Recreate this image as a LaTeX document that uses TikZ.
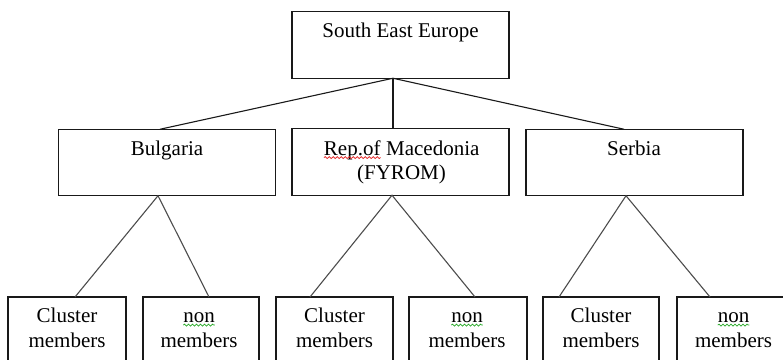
\documentclass[tikz,border=0pt]{standalone}
\usepackage{fontspec}
\setmainfont{Liberation Serif}
\usetikzlibrary{decorations.pathmorphing}

% word with a wavy underline (spell-check style)
\newcommand\squiggle[2]{\tikz[baseline=(sqw.base)]{%
  \node[inner sep=0pt,outer sep=0pt] (sqw) {#2};%
  \draw[#1,line width=0.75pt,decorate,decoration={snake,segment length=4pt,amplitude=0.9pt}]
    ([yshift=-2.6pt]sqw.base west) -- ([yshift=-2.6pt]sqw.base east);}}

\definecolor{spellred}{RGB}{226,30,30}
\definecolor{spellgreen}{RGB}{40,170,40}

\begin{document}
\begin{tikzpicture}[x=1pt,y=-1pt,
  box/.style={draw=black!90,line width=1.3pt,rectangle,inner sep=0pt,outer sep=0pt},
  topbox/.style={box,minimum width=217pt,minimum height=66.5pt},
  leafbox/.style={box,minimum width=117pt,minimum height=80pt},
  lbl/.style={font=\fontsize{21}{24.5}\selectfont,align=center,inner sep=0pt,anchor=base},
  tie/.style={line width=1.1pt,black!90},
  twig/.style={line width=1.1pt,black!70}]
\path[use as bounding box,clip] (0,0) rectangle (783,359);

% boxes
\node[topbox] (see) at (400.5,45) {};
\node[topbox] (bul) at (167,162.5) {};
\node[topbox] (mac) at (400.5,162) {};
\node[topbox] (ser) at (634.5,162.5) {};

\node[leafbox,minimum width=118pt] (c1) at (67,337) {};
\node[leafbox,minimum width=116pt] (n1) at (201,337) {};
\node[leafbox,minimum width=117pt] (c2) at (334.5,337) {};
\node[leafbox,minimum width=118pt] (n2) at (468,337) {};
\node[leafbox,minimum width=116pt] (c3) at (601,337) {};
\node[leafbox,minimum width=150pt] (n3) at (752,337) {};

% labels (two-line labels sit on the baseline of their last line)
\node[lbl] (tsee) at (400.5,37) {South East Europe};
\node[lbl] (tbul) at (167,155) {Bulgaria};
\node[lbl] (tmac) at (401.5,179.5) {\squiggle{spellred}{Rep.of} Macedonia\\(FYROM)};
\node[lbl] (tser) at (634,155) {Serbia};

\node[lbl] (tc1) at (67,347) {Cluster\\members};
\node[lbl] (tn1) at (199,347) {\squiggle{spellgreen}{non}\\members};
\node[lbl] (tc2) at (334.5,347) {Cluster\\members};
\node[lbl] (tn2) at (467,347) {\squiggle{spellgreen}{non}\\members};
\node[lbl] (tc3) at (601,347) {Cluster\\members};
\node[lbl] (tn3) at (733.5,347) {\squiggle{spellgreen}{non}\\members};

% first level connectors
\coordinate (hub) at ([xshift=-7.5pt]see.south);
\draw[tie] (hub) -- ([xshift=-7pt]bul.north);
\draw[tie] (hub) -- ([xshift=-7.5pt]mac.north);
\draw[tie] (hub) -- ([xshift=-10.5pt]ser.north);

% second level connectors
\coordinate (bb) at ([xshift=-9pt]bul.south);
\coordinate (mb) at ([xshift=-8.5pt]mac.south);
\coordinate (sb) at ([xshift=-8.5pt]ser.south);
\draw[twig] ([xshift=8pt]c1.north) -- (bb) -- ([xshift=8pt]n1.north);
\draw[twig] ([xshift=-24.5pt]c2.north) -- (mb) -- ([xshift=7pt]n2.north);
\draw[twig] ([xshift=-42pt]c3.north) -- (sb) -- ([xshift=-42pt]n3.north);
\end{tikzpicture}
\end{document}
